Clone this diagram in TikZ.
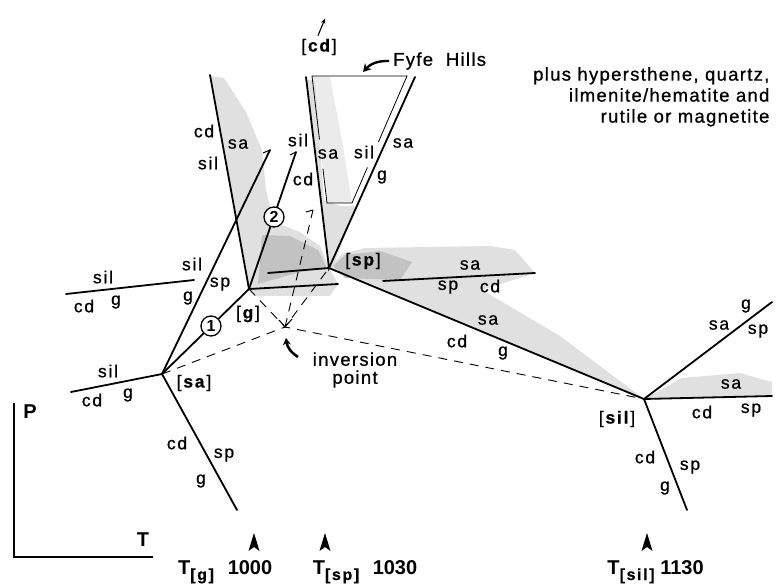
\documentclass[tikz,border=0pt]{standalone}
\usepackage{fontspec}
\setmainfont{Liberation Sans}
\newfontfamily\labfont{Liberation Sans}[LetterSpace=10,FakeBold=0.8]
\newfontfamily\notefont{Liberation Sans}[LetterSpace=7,FakeBold=0.8]
\usetikzlibrary{arrows.meta,calc}
\begin{document}
\begin{tikzpicture}[x=1pt,y=-1pt,
  reac/.style={line width=1.8pt,line cap=round},
  meta/.style={line width=0.9pt,dash pattern=on 9pt off 7pt},
  frame/.style={line width=0.8pt},
  lab/.style={font=\labfont\fontsize{17.5}{20}\selectfont,inner sep=0pt},
  ipt/.style={font=\notefont\fontsize{18.5}{20}\selectfont,inner sep=0pt},
  num/.style={circle,draw,line width=1.3pt,fill=white,minimum size=20pt,inner sep=0pt,font=\fontsize{16}{16}\selectfont\bfseries},
  big/.style={font=\fontsize{20}{20}\selectfont\bfseries,inner sep=0pt},
  stipA/.style={fill=black!12},
  stipB/.style={fill=black!24},
  stipC/.style={fill=black!8},
  tick/.style={line width=1pt},
  temp/.style={fill=black},
]
\useasboundingbox (0,0) rectangle (776,586);

% invariant points and line ends
\coordinate (sa) at (162,374);
\coordinate (g) at (249,289);
\coordinate (sp) at (329,268);
\coordinate (sil) at (644,399);
\coordinate (inv) at (285,327);
\coordinate (saL) at (71,392);
\coordinate (saD) at (237,510);
\coordinate (saU) at (270,150);
\coordinate (gR) at (338,284);
\coordinate (gU) at (296,152);
\coordinate (gL) at (210,75);
\coordinate (spL) at (268,273);
\coordinate (spUL) at (306,77);
\coordinate (spUR) at (415,77);
\coordinate (xL1) at (66,294);
\coordinate (xL2) at (194,280);
\coordinate (xR1) at (383,281);
\coordinate (xR2) at (535,273);
\coordinate (silUR) at (772,302);
\coordinate (silR) at (772,396);
\coordinate (silD) at (687,510);
\coordinate (dUp) at (313,210);
\coordinate (t1) at (312,76);
\coordinate (t2) at (407,76);
\coordinate (t3) at (352,203);
\coordinate (t4) at (327,203);

% stippled fields
\fill[stipA] (211,76) -- (224,78) -- (246,112) -- (262,150) -- (266,190)
  -- (274,222) -- (300,232) -- (320,246) -- (329,268) -- (338,284)
  -- (330,296) -- (256,296) -- (249,289) -- cycle;
\fill[stipB] (262,235) -- (290,236) -- (318,250) -- (327,268) -- (300,272)
  -- (258,284) -- cycle;
\fill[stipC] (t1) -- (330,77) -- (342,140) -- (t3) -- (t4) -- cycle;
\fill[stipA] (307,80) -- (315,80) -- (324,200) -- (340,206) -- (356,206)
  -- (335,262) -- (329,268) -- cycle;
\fill[stipA] (329,268) -- (342,254) -- (365,248) -- (490,246) -- (515,250)
  -- (535,273) -- (482,290) -- (560,336) -- (644,399) -- cycle;
\fill[stipB] (333,266) -- (345,255) -- (380,251) -- (412,262) -- (400,280)
  -- (345,278) -- cycle;
\fill[stipA] (644,399) -- (682,378) -- (740,373) -- (772,382) -- (772,396) -- cycle;

% metastable (dashed) lines
\draw[meta] (sa) -- (inv) -- (sil);
\draw[meta] (g) -- (inv) -- (sp);
\draw[meta] (inv) -- (dUp);
\draw[tick] (dUp) -- ++(-7,2);
\draw[tick] (inv) ++(-6,-7) -- (inv) -- ++(7,-8);

% Fyfe Hills field, its sides broken at the labels
\draw[frame] ($(t1)!0.5!(t4)$) -- (t1) -- (t2) -- ($(t2)!0.52!(t3)$);
\draw[frame] ($(t2)!0.72!(t3)$) -- (t3) -- (t4) -- ($(t4)!0.27!(t1)$);

% univariant reactions
\draw[reac] (saL) -- (sa) -- (saD);
\draw[reac] (sa) -- (saU);
\draw[reac] (gL) -- (g) -- (gR);
\draw[reac] (spUL) -- (sp) -- (spUR);
\draw[reac] (spL) -- (sp) -- (sil);
\draw[reac] (silUR) -- (sil) -- (silD);
\draw[reac] (sil) -- (silR);
\draw[reac] (xL1) -- (xL2);
\draw[reac] (xR1) -- (xR2);
\draw[tick] (saU) -- ++(-7,3);
\draw[tick] (gU) -- ++(-6,3);

% numbered reactions
\draw[reac] (sa) -- (g);
\draw[reac] (g) -- (gU);
\node[num] (c1) at (211,326) {1};
\node[num] (c2) at (274,217) {2};

% phase labels
\foreach \t/\x/\y [count=\i] in {
  sil/103/277, cd/84/306, g/116/302,
  sil/108/371, cd/92/400, g/128/395,
  cd/177/443, sp/224/455, g/201/481,
  sil/192/264, sp/220/284, g/188/298,
  cd/204/131, sil/208/163, sa/238/144,
  sil/298/140, cd/303/179, sa/328/154,
  sil/364/152, g/382/177, sa/403/143,
  sa/470/265, sp/448/287, cd/490/286,
  sa/488/320, cd/457/341, g/503/353,
  sa/719/325, g/746/306, sp/758/331,
  sa/731/384, cd/702/412, sp/751/410,
  cd/645/457, sp/690/467, g/665/488}
  \node[lab] (ph\i) at (\x,\y) {\t};

% invariant point labels
\node[lab] (Lsa) at (194,383) {[\textbf{sa}]};
\node[lab] (Lg) at (248,314) {[\textbf{g}]};
\node[lab] (Lsp) at (363,261) {[\textbf{sp}]};
\node[lab] (Lsil) at (617,419) {[\textbf{sil}]};
\node[lab] (Lcd) at (319,47) {[\textbf{cd}]};
\draw[line width=1.1pt,-{Stealth[length=5pt,width=4.5pt]}] (Lcd.north) ++(-1,-3) -- ++(7,-17);

% notes
\node[ipt,anchor=west] (fyfe) at (393,61) {Fyfe\ \ Hills};
\draw[line width=2.4pt,-{Stealth[length=8pt,width=9pt]}] (fyfe.west) ++(-4,0) to[bend right=25] (363,72);
\node[ipt,align=center] (ipl) at (355,370) {inversion\\[-2pt]point};
\draw[line width=2.6pt,-{Stealth[length=7pt,width=8pt]}] (298,357) to[bend left=25] (286,338);
\node[ipt,align=right,anchor=north west] (note) at (533,67)
  {plus hypersthene, quartz,\\[1pt]ilmenite/hematite and\\[1pt]rutile or magnetite};

% P-T axes
\draw[line width=2.8pt] (14,403) -- (14,557) -- (153,557);
\node[big] (P) at (30,412) {P};
\node[big] (T) at (143,540) {T};

% temperature markers
\foreach \x [count=\i] in {254,325,647}
  \fill[temp] (\x,533) -- (\x+5.5,551) -- (\x,547) -- (\x-5.5,551) -- cycle;
\node[big,anchor=base] (Tg) at (196,574) {T\raisebox{-6pt}{\labfont\fontsize{16}{16}\selectfont[\textbf{g}]}};
\node[big,anchor=base] (v1) at (250,574) {1000};
\node[big,anchor=base] (Tsp) at (336,574) {T\raisebox{-6pt}{\labfont\fontsize{16}{16}\selectfont[\textbf{sp}]}};
\node[big,anchor=base] (v2) at (395,574) {1030};
\node[big,anchor=base] (Tsil) at (631,574) {T\raisebox{-6pt}{\labfont\fontsize{16}{16}\selectfont[\textbf{sil}]}};
\node[big,anchor=base] (v3) at (682,574) {1130};
\end{tikzpicture}
\end{document}
